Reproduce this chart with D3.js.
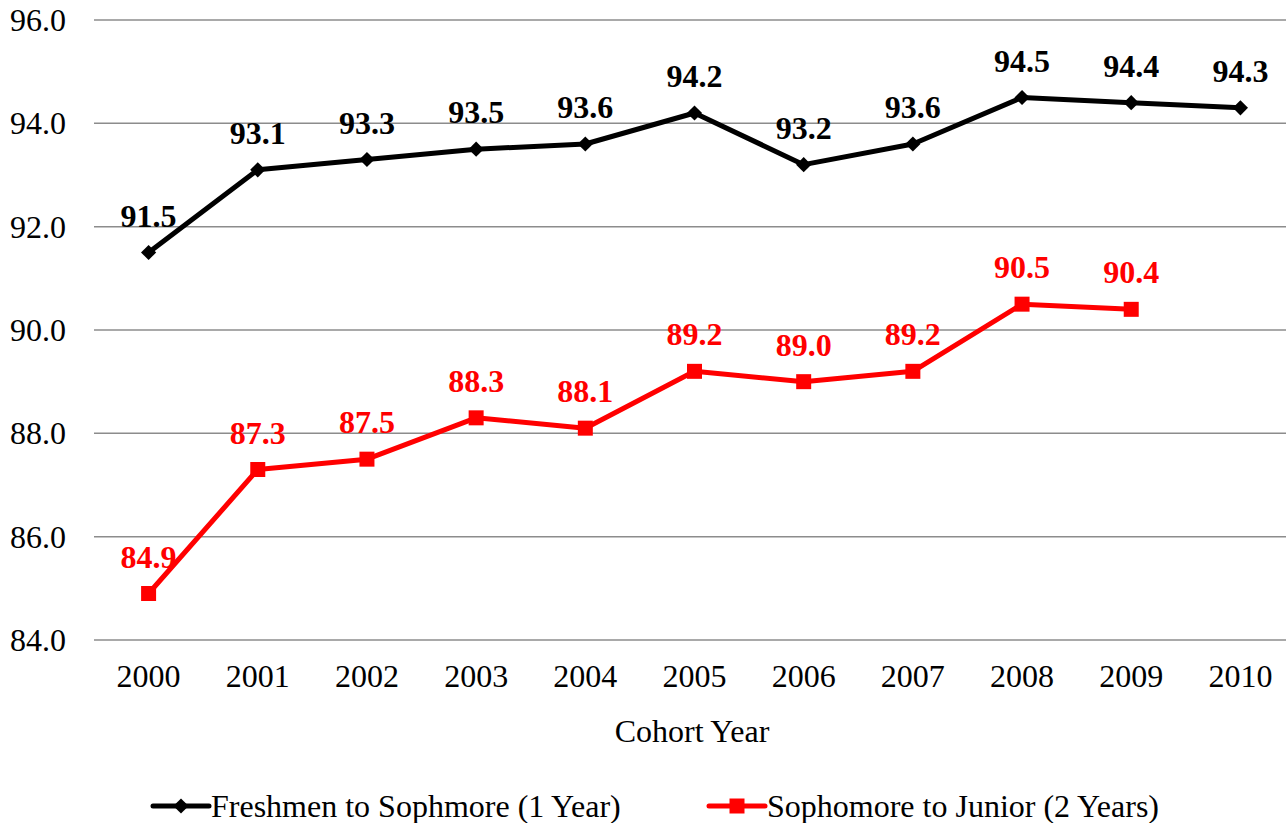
<!DOCTYPE html>
<html>
<head>
<meta charset="utf-8">
<script src="https://cdn.jsdelivr.net/npm/d3@7"></script>
<style>
  body { margin: 0; background: #fff; }
  svg { display: block; }
</style>
</head>
<body>
<div id="chart"></div>
<script>
// data
const years = ["2000", "2001", "2002", "2003", "2004", "2005", "2006", "2007", "2008", "2009", "2010"];
const freshToSoph = [91.5, 93.1, 93.3, 93.5, 93.6, 94.2, 93.2, 93.6, 94.5, 94.4, 94.3];
const sophToJunior = [84.9, 87.3, 87.5, 88.3, 88.1, 89.2, 89.0, 89.2, 90.5, 90.4, null];
const yTicks = [84, 86, 88, 90, 92, 94, 96];

const width = 1286, height = 823;
const margin = { top: 20, right: 0, bottom: 183, left: 94 };
const serif = "Liberation Serif";
const fs = 32;

const svg = d3.select("#chart").append("svg")
    .attr("width", width)
    .attr("height", height)
    .attr("font-family", serif);

// the band range runs a bit past the right edge so the last year sits at ~1240
const x = d3.scaleBand()
    .domain(years)
    .range([margin.left, 1295]);

const y = d3.scaleLinear()
    .domain([84, 96])
    .range([height - margin.bottom, margin.top]);

// gridlines
svg.append("g")
    .selectAll("line")
    .data(yTicks)
    .join("line")
    .attr("x1", margin.left)
    .attr("x2", width - margin.right)
    .attr("y1", d => y(d))
    .attr("y2", d => y(d))
    .attr("stroke", "#8c8c8c")
    .attr("stroke-width", 1.5);

// y axis labels
svg.append("g")
    .selectAll("text")
    .data(yTicks)
    .join("text")
    .attr("x", 66)
    .attr("y", d => y(d) + 11)
    .attr("text-anchor", "end")
    .attr("font-family", serif)
    .attr("font-size", fs)
    .text(d => d.toFixed(1));

const cx = d => x(d) + x.bandwidth() / 2;

// x axis labels
svg.append("g")
    .selectAll("text")
    .data(years)
    .join("text")
    .attr("x", d => cx(d))
    .attr("y", 687)
    .attr("text-anchor", "middle")
    .attr("font-family", serif)
    .attr("font-size", fs)
    .text(d => d);

svg.append("text")
    .attr("x", 692)
    .attr("y", 742)
    .attr("text-anchor", "middle")
    .attr("font-family", serif)
    .attr("font-size", fs)
    .text("Cohort Year");

// diamond = square rotated 45deg
const series = [
    { name: "Freshmen to Sophmore (1 Year)", values: freshToSoph, color: "#000000", size: 115, rotate: 45 },
    { name: "Sophomore to Junior (2 Years)", values: sophToJunior, color: "#ff0000", size: 225, rotate: 0 }
];

const line = d3.line()
    .x(d => cx(d.year))
    .y(d => y(d.v));

series.forEach(s => {
    const pts = years.map((yr, i) => ({ year: yr, v: s.values[i] })).filter(d => d.v != null);
    const sym = d3.symbol().type(d3.symbolSquare).size(s.size);

    // labels go under the line
    svg.append("g")
        .selectAll("text")
        .data(pts)
        .join("text")
        .attr("x", d => cx(d.year))
        .attr("y", d => y(d.v) - 26)
        .attr("text-anchor", "middle")
        .attr("font-family", serif)
        .attr("font-size", fs)
        .attr("font-weight", "bold")
        .attr("fill", s.color)
        .text(d => d.v.toFixed(1));

    svg.append("path")
        .datum(pts)
        .attr("fill", "none")
        .attr("stroke", s.color)
        .attr("stroke-width", 5)
        .attr("stroke-linejoin", "round")
        .attr("d", line);

    svg.append("g")
        .selectAll("path")
        .data(pts)
        .join("path")
        .attr("transform", d => `translate(${cx(d.year)},${y(d.v)}) rotate(${s.rotate})`)
        .attr("d", sym)
        .attr("fill", s.color);
});

// legend
const legendX = [153, 709];
series.forEach((s, i) => {
    const g = svg.append("g").attr("transform", `translate(${legendX[i]},806)`);
    g.append("line")
        .attr("x1", 0).attr("x2", 56)
        .attr("stroke", s.color)
        .attr("stroke-width", 5)
        .attr("stroke-linecap", "round");
    g.append("path")
        .attr("transform", `translate(28,0) rotate(${s.rotate})`)
        .attr("d", d3.symbol().type(d3.symbolSquare).size(s.size))
        .attr("fill", s.color);
    g.append("text")
        .attr("x", 58)
        .attr("y", 11)
        .attr("font-family", serif)
        .attr("font-size", fs)
        .text(s.name);
});
</script>
</body>
</html>
